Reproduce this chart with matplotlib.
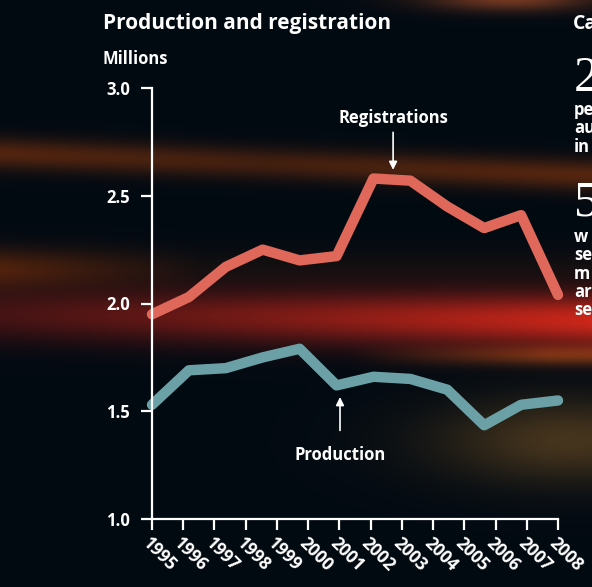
import numpy as np
import matplotlib.pyplot as plt

# tick years on the axis
years = list(range(1995, 2009))
# 12 observations drawn evenly across the axis span
registrations = [1.95, 2.03, 2.17, 2.25, 2.20, 2.22, 2.58, 2.57, 2.45, 2.35, 2.41, 2.04]
production = [1.53, 1.69, 1.70, 1.75, 1.79, 1.62, 1.66, 1.65, 1.60, 1.435, 1.53, 1.55]
yticks = [1.0, 1.5, 2.0, 2.5, 3.0]

reg_color = '#e0685a'
prod_color = '#6aa0a6'
bg = np.array([0.01, 0.04, 0.07])

W, H = 592, 587
fig = plt.figure(figsize=(W / 100, H / 100), dpi=100)

# blurred light streaks behind the chart
yy, xx = np.mgrid[0:H, 0:W].astype(float)
img = np.zeros((H, W, 3)) + bg

def streak(yc, sig, col, amp):
    g = np.exp(-0.5 * ((yy - yc) / sig) ** 2) * amp
    return g[..., None] * (np.array(col) - bg)

img += streak(153 + 22 * xx / W, 11, [0.34, 0.15, 0.06], 0.75 + 0.4 * np.abs(xx / W - 0.45))
img += streak(268, 14, [0.30, 0.13, 0.05], np.clip(1 - xx / 250, 0.2, 1))
red_amp = 0.55 + 0.45 * xx / W
img += streak(314 + 6 * xx / W, 19, [0.80, 0.15, 0.10], red_amp * (0.6 + 0.4 * xx / W))
img += streak(355, 7, [0.35, 0.18, 0.08], np.clip((xx - 350) / 200, 0, 1))
glow = np.exp(-0.5 * (((xx - 570) / 95) ** 2 + ((yy - 440) / 30) ** 2)) * 0.75
img += glow[..., None] * (np.array([0.36, 0.26, 0.13]) - bg)
blob = np.exp(-0.5 * (((xx - 510) / 60) ** 2 + ((yy + 2) / 9) ** 2))
img += blob[..., None] * (np.array([0.45, 0.22, 0.13]) - bg)
img = np.clip(img, 0, 1)

bax = fig.add_axes([0, 0, 1, 1], zorder=-1)
bax.imshow(img, extent=(0, W, H, 0), aspect='auto', interpolation='bilinear')
bax.axis('off')

# main chart
ax = fig.add_axes([152 / W, 1 - 519 / H, (558 - 152) / W, (519 - 88) / H])
ax.set_facecolor('none')
pos = np.linspace(years[0], years[-1], len(registrations))
ax.plot(pos, registrations, color=reg_color, lw=7.5, solid_capstyle='round',
        solid_joinstyle='round', clip_on=False)
ax.plot(pos, production, color=prod_color, lw=7.5, solid_capstyle='round',
        solid_joinstyle='round', clip_on=False)

ax.set_xlim(years[0], years[-1])
ax.set_ylim(1, 3)
for s in ['top', 'right']:
    ax.spines[s].set_visible(False)
for s in ['left', 'bottom']:
    ax.spines[s].set_color('white')
    ax.spines[s].set_linewidth(1.6)

font = 'Open Sans'
ax.set_xticks(years)
ax.set_xticklabels([str(y) for y in years], rotation=-45, ha='left', va='top',
                   rotation_mode='anchor', fontsize=12.5, fontweight='bold',
                   color='white', family=font)
ax.set_yticks(yticks)
ax.set_yticklabels([f'{v:.1f}' for v in yticks], fontsize=12, fontweight='bold',
                   color='white', family=font)
ax.tick_params(axis='x', length=8, width=1.6, color='white', pad=3)
ax.tick_params(axis='y', length=8, width=1.6, color='white', pad=8)

ax.annotate('Registrations', xy=(2002.72, 2.62), xytext=(2002.72, 2.82),
            ha='center', va='bottom', color='white', fontsize=12,
            fontweight='bold', family=font,
            arrowprops=dict(arrowstyle='-|>', color='white', lw=1.2,
                            shrinkA=2, shrinkB=0, mutation_scale=12))
ax.annotate('Production', xy=(2001.02, 1.566), xytext=(2001.02, 1.34),
            ha='center', va='top', color='white', fontsize=12,
            fontweight='bold', family=font,
            arrowprops=dict(arrowstyle='-|>', color='white', lw=1.2,
                            shrinkA=9, shrinkB=0, mutation_scale=12))

# headings
fig.text(103 / W, 1 - 23 / H, 'Production and registration', color='white',
         fontsize=15, fontweight='bold', family=font, va='center')
fig.text(103 / W, 1 - 59 / H, 'Millions', color='white', fontsize=12,
         fontweight='bold', family=font, va='center')

# right-hand column (cut off at the edge, as in the source layout)
fig.text(573 / W, 1 - 24 / H, 'Ca', color='white', fontsize=14,
         fontweight='bold', family=font, va='center')
fig.text(574 / W, 1 - 79 / H, '2', color='white', fontsize=36,
         family='Liberation Serif', va='center')
fig.text(574 / W, 1 - 203 / H, '5', color='white', fontsize=36,
         family='Liberation Serif', va='center')
for i, t in enumerate(['pe', 'au', 'in']):
    fig.text(574 / W, 1 - (110 + 18.3 * i) / H, t, color='white', fontsize=12,
             fontweight='bold', family=font, va='center')
for i, t in enumerate(['w', 'se', 'm', 'ar', 'se']):
    fig.text(574 / W, 1 - (237 + 18.3 * i) / H, t, color='white', fontsize=12,
             fontweight='bold', family=font, va='center')

fig.savefig('out.png', dpi=100)
